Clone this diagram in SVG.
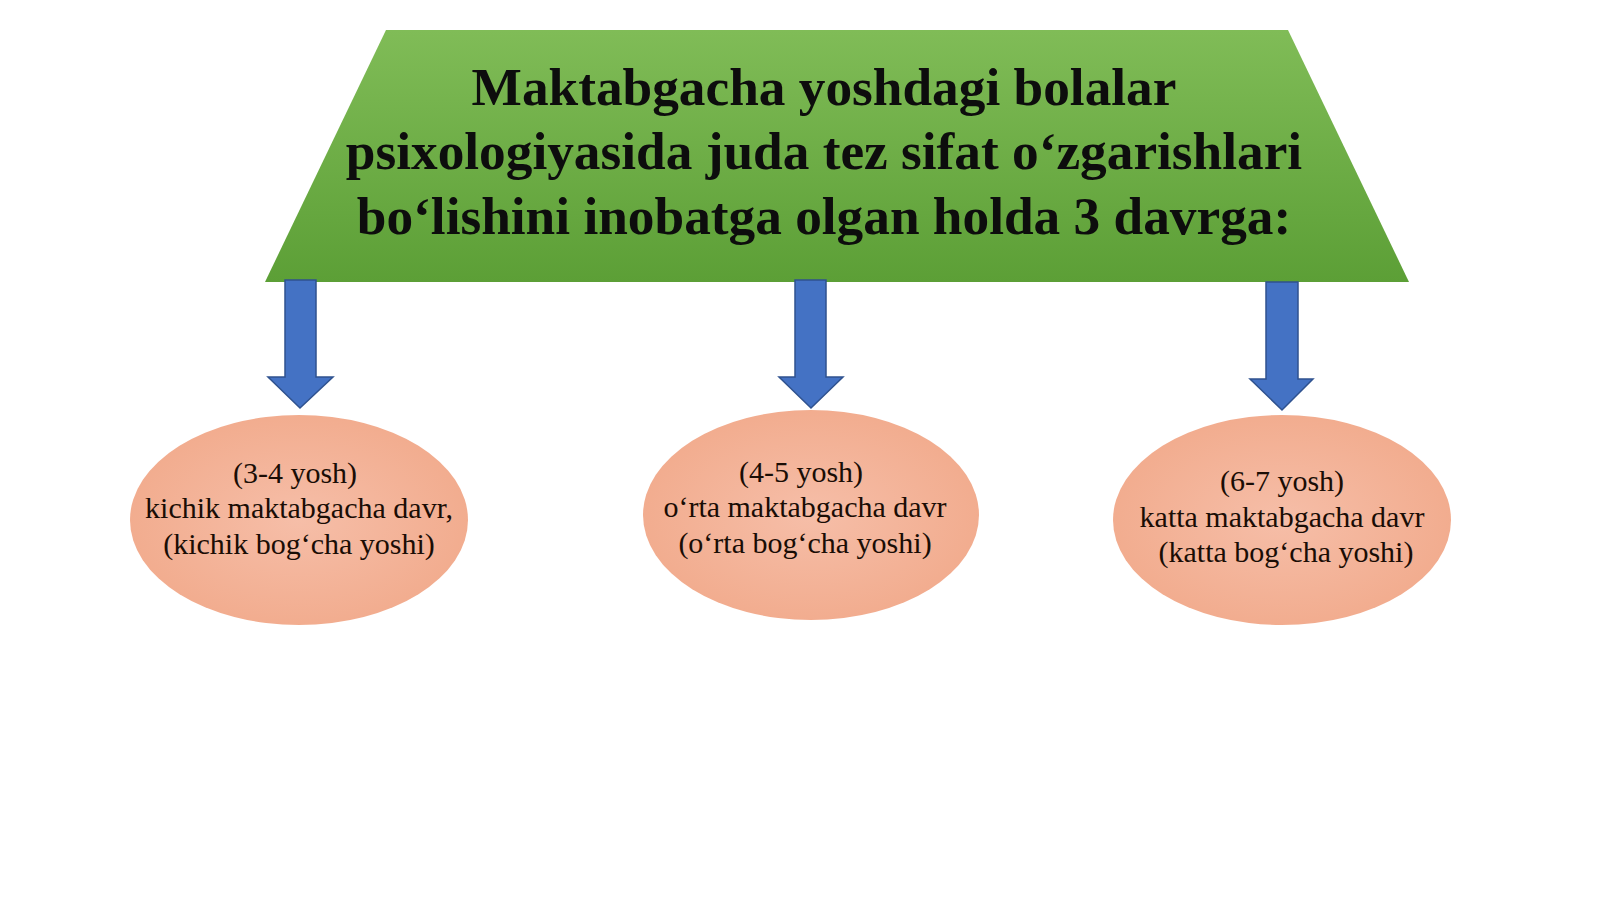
<svg xmlns="http://www.w3.org/2000/svg" width="1600" height="899" viewBox="0 0 1600 899">
  <defs>
    <linearGradient id="gGreen" x1="0" y1="0" x2="0" y2="1">
      <stop offset="0" stop-color="#80bc57"/>
      <stop offset="1" stop-color="#5c9f36"/>
    </linearGradient>
    <radialGradient id="gPeach" cx="0.5" cy="0.5" r="0.6">
      <stop offset="0" stop-color="#f6bea8"/>
      <stop offset="1" stop-color="#f1a98a"/>
    </radialGradient>
    <style>
      .title { font-family: "Liberation Serif", "Times New Roman", serif; font-weight: bold; font-size: 53.3px; fill: #0d0d0d; text-anchor: middle; }
      .lbl { font-family: "Liberation Serif", "Times New Roman", serif; font-size: 30px; fill: #1a0d05; text-anchor: middle; }
      .arrow { fill: #4472c4; stroke: #2f528f; stroke-width: 1.5; }
      .oval { fill: url(#gPeach); }
    </style>
  </defs>
  <rect width="1600" height="899" fill="#ffffff"/>

  <g id="header">
    <polygon points="386,30 1288,30 1409,282 265,282" fill="url(#gGreen)"/>
    <text class="title" x="824" y="105">Maktabgacha yoshdagi bolalar</text>
    <text class="title" x="824" y="169">psixologiyasida juda tez sifat o‘zgarishlari</text>
    <text class="title" x="824" y="234">bo‘lishini inobatga olgan holda 3 davrga:</text>
  </g>

  <g id="connectors">
    <polygon class="arrow" points="285,280 316,280 316,377 333,377 300,408 268,377 285,377"/>
    <polygon class="arrow" points="795,280 826,280 826,377 843,377 811,408 779,377 795,377"/>
    <polygon class="arrow" points="1266,282 1298,282 1298,379 1313,379 1282,410 1250,379 1266,379"/>
  </g>

  <g id="node1">
    <ellipse class="oval" cx="299" cy="520" rx="169" ry="105"/>
    <text class="lbl" x="295" y="483">(3-4 yosh)</text>
    <text class="lbl" x="299" y="518">kichik maktabgacha davr,</text>
    <text class="lbl" x="299" y="554">(kichik bog‘cha yoshi)</text>
  </g>

  <g id="node2">
    <ellipse class="oval" cx="811" cy="515" rx="168" ry="105"/>
    <text class="lbl" x="801" y="482">(4-5 yosh)</text>
    <text class="lbl" x="805" y="517">o‘rta maktabgacha davr</text>
    <text class="lbl" x="805" y="553">(o‘rta bog‘cha yoshi)</text>
  </g>

  <g id="node3">
    <ellipse class="oval" cx="1282" cy="520" rx="169" ry="105"/>
    <text class="lbl" x="1282" y="491">(6-7 yosh)</text>
    <text class="lbl" x="1282" y="527">katta maktabgacha davr</text>
    <text class="lbl" x="1286" y="562">(katta bog‘cha yoshi)</text>
  </g>
</svg>
